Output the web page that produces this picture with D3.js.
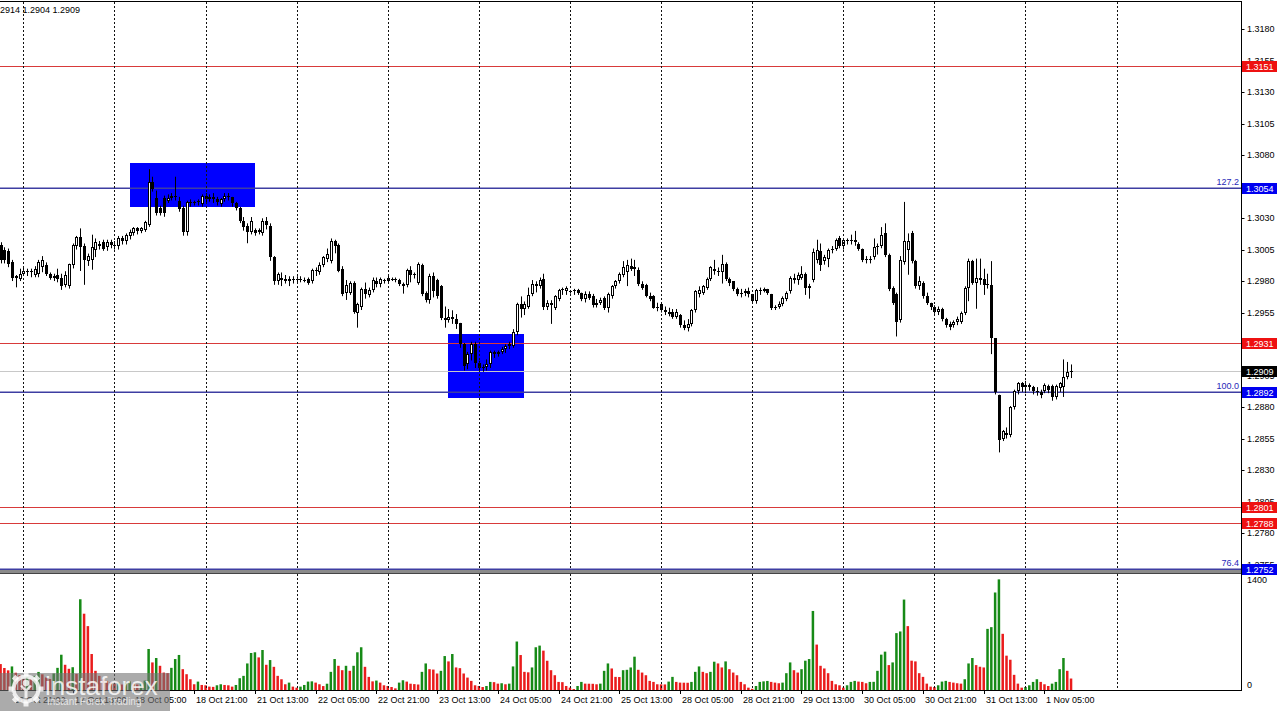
<!DOCTYPE html>
<html><head><meta charset="utf-8">
<script src="https://cdn.jsdelivr.net/npm/d3@7"></script>
<style>html,body{margin:0;padding:0;background:#fff;overflow:hidden}svg{display:block}</style>
</head><body>
<svg id="c" width="1280" height="711"></svg>
<script>
// ---------------- DATA (H1 candles, 16 Oct 18:00 .. 1 Nov 12:00) ----------------
const open = [
1.3009,1.3005,1.3004,1.2995,1.2984,1.2982,1.2986,1.2988,1.2987,1.2985,
1.2986,1.2991,1.2993,1.2986,1.2984,1.2985,1.2983,1.2977,1.2976,1.2993,
1.3008,1.3015,1.3008,1.2996,1.2997,1.3005,1.3010,1.3011,1.3007,1.3011,
1.3009,1.3008,1.3014,1.3012,1.3016,1.3018,1.3022,1.3020,1.3021,1.3025,
1.3059,1.3046,1.3038,1.3046,1.3044,1.3046,1.3048,1.3044,1.3038,1.3019,
1.3043,1.3042,1.3043,1.3041,1.3048,1.3045,1.3047,1.3045,1.3041,1.3045,
1.3048,1.3047,1.3042,1.3038,1.3028,1.3024,1.3019,1.3021,1.3019,1.3018,
1.3028,1.3024,1.2999,1.2980,1.2983,1.2982,1.2980,1.2982,1.2981,1.2982,
1.2981,1.2982,1.2980,1.2988,1.2987,1.2993,1.2998,1.2996,1.3012,1.3009,
1.2990,1.2971,1.2971,1.2979,1.2955,1.2960,1.2974,1.2969,1.2973,1.2980,
1.2978,1.2981,1.2980,1.2982,1.2982,1.2981,1.2978,1.2977,1.2989,1.2985,
1.2979,1.2993,1.2971,1.2965,1.2984,1.2981,1.2976,1.2951,1.2949,1.2952,
1.2950,1.2947,1.2930,1.2914,1.2922,1.2930,1.2915,1.2911,1.2912,1.2914,
1.2924,1.2922,1.2924,1.2926,1.2929,1.2929,1.2940,1.2962,1.2958,1.2960,
1.2970,1.2978,1.2976,1.2982,1.2960,1.2961,1.2959,1.2966,1.2973,1.2972,
1.2972,1.2972,1.2973,1.2971,1.2966,1.2970,1.2968,1.2961,1.2963,1.2967,
1.2959,1.2968,1.2976,1.2980,1.2985,1.2987,1.2992,1.2990,1.2989,1.2978,
1.2977,1.2968,1.2968,1.2959,1.2962,1.2957,1.2956,1.2956,1.2952,1.2953,
1.2945,1.2943,1.2946,1.2957,1.2970,1.2971,1.2975,1.2982,1.2990,1.2988,
1.2987,1.2994,1.2982,1.2980,1.2974,1.2970,1.2971,1.2972,1.2970,1.2964,
1.2973,1.2972,1.2974,1.2970,1.2959,1.2960,1.2962,1.2966,1.2972,1.2983,
1.2981,1.2983,1.2986,1.2975,1.2981,1.2997,1.3004,1.2996,1.2998,1.3005,
1.3006,1.3014,1.3008,1.3013,1.3012,1.3013,1.3010,1.3006,1.2997,1.2998,
1.2999,1.3007,1.3008,1.3018,1.3001,1.2975,1.2970,1.2949,1.2995,1.3005,
1.3018,1.2996,1.2976,1.2979,1.2968,1.2963,1.2960,1.2956,1.2958,1.2950,
1.2946,1.2945,1.2948,1.2948,1.2955,1.2975,1.2996,1.2979,1.2983,1.2982,
1.2978,1.2977,1.2935,1.2890,1.2855,1.2860,1.2858,1.2880,1.2893,1.2899,
1.2896,1.2898,1.2896,1.2893,1.2892,1.2893,1.2897,1.2897,1.2888,1.2895,
1.2896,1.2904,1.2908];
const high = [
1.3011,1.3007,1.3006,1.2997,1.2985,1.2990,1.2991,1.2990,1.2990,1.2992,
1.2997,1.3000,1.2995,1.2987,1.2986,1.2990,1.2986,1.2988,1.2994,1.3010,
1.3016,1.3022,1.3010,1.3002,1.3017,1.3014,1.3012,1.3013,1.3013,1.3013,
1.3012,1.3016,1.3016,1.3018,1.3021,1.3023,1.3023,1.3023,1.3028,1.3069,
1.3063,1.3052,1.3040,1.3048,1.3049,1.3050,1.3063,1.3047,1.3040,1.3044,
1.3045,1.3044,1.3045,1.3049,1.3050,1.3049,1.3050,1.3047,1.3046,1.3050,
1.3050,1.3047,1.3043,1.3039,1.3031,1.3026,1.3031,1.3022,1.3022,1.3030,
1.3031,1.3026,1.3000,1.2987,1.2987,1.2985,1.2984,1.2984,1.2984,1.2984,
1.2983,1.2983,1.2990,1.2991,1.2995,1.3000,1.3006,1.3014,1.3013,1.3010,
1.2992,1.2981,1.2980,1.2980,1.2963,1.2975,1.2979,1.2975,1.2983,1.2983,
1.2983,1.2982,1.2985,1.2983,1.2983,1.2982,1.2979,1.2990,1.2992,1.2987,
1.2995,1.2994,1.2972,1.2986,1.2987,1.2982,1.2977,1.2960,1.2958,1.2957,
1.2954,1.2947,1.2931,1.2924,1.2932,1.2932,1.2917,1.2914,1.2918,1.2925,
1.2925,1.2925,1.2928,1.2930,1.2932,1.2942,1.2963,1.2968,1.2964,1.2975,
1.2981,1.2980,1.2983,1.2986,1.2965,1.2965,1.2969,1.2974,1.2975,1.2976,
1.2973,1.2974,1.2974,1.2971,1.2972,1.2972,1.2970,1.2966,1.2967,1.2968,
1.2971,1.2977,1.2981,1.2987,1.2996,1.2997,1.2998,1.2997,1.2991,1.2980,
1.2978,1.2971,1.2969,1.2963,1.2963,1.2960,1.2959,1.2958,1.2958,1.2954,
1.2949,1.2950,1.2958,1.2973,1.2976,1.2977,1.2983,1.2992,1.2997,1.2991,
1.3001,1.2995,1.2983,1.2980,1.2975,1.2974,1.2974,1.2975,1.2970,1.2974,
1.2975,1.2975,1.2974,1.2970,1.2961,1.2964,1.2968,1.2972,1.2984,1.2986,
1.2987,1.2992,1.2987,1.2978,1.3006,1.3013,1.3010,1.3001,1.3006,1.3008,
1.3014,1.3016,1.3014,1.3014,1.3017,1.3020,1.3011,1.3006,1.3000,1.3000,
1.3014,1.3010,1.3023,1.3026,1.3002,1.2976,1.2971,1.3000,1.3043,1.3018,
1.3020,1.2997,1.2984,1.2980,1.2971,1.2963,1.2961,1.2960,1.2959,1.2951,
1.2948,1.2949,1.2952,1.2956,1.2976,1.2998,1.2997,1.2998,1.2998,1.2990,
1.2986,1.2996,1.2935,1.2890,1.2862,1.2864,1.2881,1.2894,1.2900,1.2900,
1.2901,1.2899,1.2897,1.2896,1.2894,1.2899,1.2898,1.2898,1.2898,1.2900,
1.2918,1.2916,1.2914];
const low = [
1.2995,1.2995,1.2992,1.2981,1.2976,1.2981,1.2985,1.2985,1.2984,1.2984,
1.2984,1.2988,1.2985,1.2982,1.2981,1.2980,1.2974,1.2976,1.2975,1.2991,
1.3006,1.2989,1.2978,1.2993,1.2990,1.3000,1.3006,1.3005,1.3005,1.3007,
1.3006,1.3006,1.3010,1.3010,1.3014,1.3017,1.3018,1.3019,1.3020,1.3024,
1.3052,1.3033,1.3033,1.3032,1.3043,1.3045,1.3045,1.3036,1.3017,1.3017,
1.3040,1.3041,1.3041,1.3040,1.3043,1.3044,1.3043,1.3041,1.3040,1.3044,
1.3045,1.3040,1.3037,1.3027,1.3021,1.3011,1.3018,1.3017,1.3018,1.3017,
1.3022,1.2997,1.2978,1.2978,1.2977,1.2979,1.2977,1.2979,1.2980,1.2980,
1.2980,1.2978,1.2979,1.2985,1.2986,1.2992,1.2996,1.2995,1.3003,1.2988,
1.2969,1.2966,1.2970,1.2955,1.2944,1.2958,1.2967,1.2968,1.2972,1.2976,
1.2976,1.2979,1.2979,1.2981,1.2980,1.2977,1.2971,1.2976,1.2980,1.2983,
1.2978,1.2969,1.2964,1.2963,1.2968,1.2967,1.2950,1.2944,1.2948,1.2947,
1.2943,1.2928,1.2910,1.2911,1.2918,1.2912,1.2909,1.2909,1.2910,1.2912,
1.2920,1.2921,1.2923,1.2924,1.2927,1.2928,1.2938,1.2952,1.2954,1.2959,
1.2969,1.2972,1.2975,1.2958,1.2958,1.2947,1.2958,1.2965,1.2970,1.2970,
1.2971,1.2970,1.2970,1.2965,1.2964,1.2966,1.2960,1.2960,1.2962,1.2958,
1.2956,1.2967,1.2975,1.2979,1.2984,1.2977,1.2989,1.2985,1.2977,1.2974,
1.2968,1.2965,1.2959,1.2957,1.2956,1.2954,1.2953,1.2951,1.2951,1.2944,
1.2942,1.2941,1.2945,1.2956,1.2968,1.2970,1.2974,1.2981,1.2986,1.2985,
1.2979,1.2981,1.2977,1.2973,1.2969,1.2968,1.2969,1.2968,1.2963,1.2963,
1.2970,1.2972,1.2970,1.2958,1.2958,1.2959,1.2961,1.2965,1.2971,1.2979,
1.2978,1.2982,1.2970,1.2967,1.2980,1.2995,1.2989,1.2994,1.2992,1.3003,
1.3005,1.3007,1.3006,1.3010,1.3010,1.3009,1.3005,1.2996,1.2995,1.2995,
1.2998,1.3002,1.3007,1.3000,1.2973,1.2962,1.2937,1.2948,1.2994,1.2986,
1.2995,1.2975,1.2974,1.2967,1.2962,1.2958,1.2955,1.2954,1.2949,1.2944,
1.2942,1.2944,1.2946,1.2947,1.2954,1.2965,1.2978,1.2959,1.2978,1.2970,
1.2975,1.2923,1.2891,1.2845,1.2854,1.2856,1.2857,1.2879,1.2891,1.2893,
1.2892,1.2894,1.2891,1.2890,1.2888,1.2892,1.2892,1.2886,1.2887,1.2893,
1.2889,1.2903,1.2904];
const close = [
1.2997,1.2997,1.2994,1.2983,1.2983,1.2986,1.2988,1.2987,1.2988,1.2990,
1.2995,1.2997,1.2986,1.2983,1.2983,1.2982,1.2976,1.2985,1.2994,1.3009,
1.3015,1.3007,1.2997,1.3000,1.3007,1.3011,1.3008,1.3006,1.3011,1.3009,
1.3008,1.3014,1.3012,1.3017,1.3019,1.3022,1.3020,1.3022,1.3027,1.3059,
1.3053,1.3034,1.3034,1.3034,1.3046,1.3048,1.3047,1.3037,1.3019,1.3043,
1.3042,1.3043,1.3044,1.3048,1.3045,1.3047,1.3045,1.3043,1.3045,1.3048,
1.3047,1.3042,1.3038,1.3028,1.3023,1.3019,1.3028,1.3018,1.3021,1.3028,
1.3025,1.2999,1.2980,1.2986,1.2981,1.2980,1.2982,1.2981,1.2982,1.2981,
1.2981,1.2979,1.2989,1.2989,1.2993,1.2999,1.3002,1.3012,1.3008,1.2988,
1.2970,1.2977,1.2979,1.2956,1.2962,1.2974,1.2970,1.2973,1.2981,1.2978,
1.2982,1.2980,1.2983,1.2982,1.2981,1.2978,1.2976,1.2989,1.2985,1.2986,
1.2994,1.2970,1.2965,1.2984,1.2972,1.2968,1.2951,1.2949,1.2952,1.2950,
1.2946,1.2930,1.2913,1.2922,1.2930,1.2915,1.2911,1.2912,1.2914,1.2924,
1.2922,1.2924,1.2926,1.2929,1.2930,1.2940,1.2962,1.2958,1.2962,1.2969,
1.2978,1.2976,1.2981,1.2960,1.2963,1.2963,1.2968,1.2973,1.2974,1.2975,
1.2972,1.2973,1.2971,1.2966,1.2970,1.2967,1.2961,1.2963,1.2965,1.2959,
1.2970,1.2976,1.2980,1.2986,1.2991,1.2993,1.2990,1.2991,1.2978,1.2975,
1.2968,1.2966,1.2959,1.2960,1.2957,1.2956,1.2954,1.2952,1.2956,1.2945,
1.2943,1.2946,1.2957,1.2972,1.2973,1.2976,1.2982,1.2991,1.2988,1.2987,
1.2994,1.2982,1.2979,1.2974,1.2970,1.2971,1.2972,1.2970,1.2964,1.2973,
1.2972,1.2974,1.2971,1.2959,1.2960,1.2962,1.2967,1.2971,1.2983,1.2981,
1.2985,1.2986,1.2975,1.2976,1.3003,1.3005,1.2993,1.2999,1.3005,1.3006,
1.3013,1.3008,1.3013,1.3012,1.3013,1.3011,1.3006,1.2997,1.2998,1.2997,
1.3007,1.3008,1.3017,1.3001,1.2974,1.2963,1.2948,1.2997,1.3012,1.3012,
1.2996,1.2976,1.2980,1.2968,1.2963,1.2960,1.2956,1.2958,1.2950,1.2945,
1.2944,1.2948,1.2950,1.2955,1.2975,1.2996,1.2979,1.2983,1.2981,1.2977,
1.2977,1.2935,1.2892,1.2854,1.2861,1.2858,1.2880,1.2893,1.2899,1.2896,
1.2898,1.2896,1.2893,1.2892,1.2890,1.2898,1.2894,1.2888,1.2897,1.2899,
1.2904,1.2908,1.2909];
const volume = [
330,280,250,300,220,190,150,170,140,180,
230,200,160,140,210,282,449,321,270,290,
205,1155,971,813,458,244,180,137,116,100,
80,95,70,90,110,85,70,90,120,522,
351,407,308,222,215,282,394,446,265,201,
137,73,107,64,60,43,40,60,73,64,
60,43,64,150,180,338,471,480,415,509,
321,381,295,180,137,73,94,43,30,43,
64,107,110,94,73,50,80,231,394,308,
252,308,244,308,480,544,295,167,110,120,
94,60,51,38,21,94,124,107,80,75,
70,231,338,265,260,210,244,432,364,458,
287,278,210,158,116,60,51,38,51,103,
100,81,86,73,81,300,617,445,231,225,
287,544,565,501,372,252,188,103,100,51,
30,12,51,103,81,80,79,73,81,244,
338,274,167,165,252,257,287,424,257,222,
188,116,103,73,72,71,107,167,103,94,
93,92,103,231,300,231,214,231,360,338,
287,364,265,222,188,103,73,30,15,51,
103,110,115,103,94,86,94,214,351,252,
222,265,373,394,1006,578,308,274,214,116,
73,60,30,60,103,116,107,103,86,103,
104,244,450,488,317,351,724,745,1151,813,
373,364,214,167,81,43,38,60,107,116,
103,94,86,81,137,338,407,317,296,287,
778,800,1241,1408,715,437,385,193,81,30,
38,60,103,137,103,73,51,81,103,265,
407,244,146];

// time axis: bar index -> label
const timeTickBars   = [3,19,35,51,67,83,99,115,131,147,163,179,195,211,227,243,259,275];
const timeTickLabels = ["16 Oct 21:00","17 Oct 13:00","18 Oct 05:00","18 Oct 21:00","21 Oct 13:00",
  "22 Oct 05:00","22 Oct 21:00","23 Oct 13:00","24 Oct 05:00","24 Oct 21:00","25 Oct 13:00",
  "28 Oct 05:00","28 Oct 21:00","29 Oct 13:00","30 Oct 05:00","30 Oct 21:00","31 Oct 13:00","1 Nov 05:00"];
// day separators (midnight bars)
const dayGridBars = [6,30,54,78,102,126,150,174,198,222,246,270,294];

// price scale labels (those fully hidden behind level tags are not listed)
const priceTicks = [1.3180,1.3155,1.3130,1.3105,1.3080,1.3030,1.3005,1.2980,1.2955,
  1.2905,1.2880,1.2855,1.2830,1.2805,1.2780,1.2755];
const volumeTicks = [1400, 0];

const redLevels = [1.3151, 1.2931, 1.2801, 1.2788];
const fibLevels = [1.3054, 1.2892, 1.2752];
const fibNames  = ["127.2", "100.0", "76.4"];
const bidLevel  = 1.2909;

const boxStartBar = [34, 118];
const boxEndBar   = [67, 138];
const boxTop      = [1.3074, 1.2938];
const boxBottom   = [1.3039, 1.2887];

// ---------------- DRAWING ----------------
const FONT = "'Liberation Sans', Arial, sans-serif";
const svg = d3.select('#c');
const axisX = 1241.5;
const x  = d3.scaleLinear().domain([0, 294]).range([0.52, 0.52 + 3.796 * 294]);
const y  = d3.scaleLinear().domain([1.2780, 1.3180]).range([533.3, 29.3]);
const yv = d3.scaleLinear().domain([0, 1400]).range([690, 580]);
const px = v => Math.round(v);

svg.append('rect').attr('width', 1280).attr('height', 711).attr('fill', '#fff');

const defs = svg.append('defs');
defs.append('clipPath').attr('id', 'cpP').append('rect').attr('x', 0).attr('y', 2).attr('width', 1241).attr('height', 568);
defs.append('clipPath').attr('id', 'cpV').append('rect').attr('x', 0).attr('y', 574).attr('width', 1241).attr('height', 116);

const gP = svg.append('g').attr('clip-path', 'url(#cpP)');
const gV = svg.append('g').attr('clip-path', 'url(#cpV)');

// rectangles (background objects)
gP.selectAll('rect.box').data(boxStartBar).join('rect').attr('class', 'box')
  .attr('x', (d, i) => px(x(d)))
  .attr('y', (d, i) => px(y(boxTop[i])))
  .attr('width', (d, i) => px(x(boxEndBar[i])) - px(x(d)))
  .attr('height', (d, i) => px(y(boxBottom[i])) - px(y(boxTop[i])))
  .attr('fill', '#0000ff');

// day grid
svg.append('g').selectAll('line').data(dayGridBars).join('line')
  .attr('x1', d => px(x(d)) + 0.5).attr('x2', d => px(x(d)) + 0.5)
  .attr('y1', 2).attr('y2', 690)
  .attr('stroke', '#111').attr('stroke-width', 1).attr('stroke-dasharray', '2,2');

// horizontal levels
gP.append('line').attr('x1', 0).attr('x2', axisX).attr('y1', px(y(bidLevel)) + 0.5).attr('y2', px(y(bidLevel)) + 0.5)
  .attr('stroke', '#c8c8c8').attr('stroke-width', 1);
gP.selectAll('line.red').data(redLevels).join('line').attr('class', 'red')
  .attr('x1', 0).attr('x2', axisX)
  .attr('y1', d => px(y(d)) + 0.5).attr('y2', d => px(y(d)) + 0.5)
  .attr('stroke', '#d83a3a').attr('stroke-width', 1);
gP.selectAll('line.fib').data(fibLevels).join('line').attr('class', 'fib')
  .attr('x1', 0).attr('x2', axisX)
  .attr('y1', d => px(y(d)) + 0.25).attr('y2', d => px(y(d)) + 0.25)
  .attr('stroke', '#3e3ea2').attr('stroke-width', 1.5);
gP.selectAll('text.fib').data(fibLevels).join('text').attr('class', 'fib')
  .attr('x', 1239).attr('y', d => px(y(d)) - 3)
  .attr('text-anchor', 'end').attr('font-family', FONT).attr('font-size', 9)
  .attr('fill', '#2828b8').text((d, i) => fibNames[i]);

// candles
const idx = d3.range(open.length);
const cg = gP.append('g');
cg.selectAll('line.wick').data(idx).join('line').attr('class', 'wick')
  .attr('x1', i => px(x(i)) + 0.5).attr('x2', i => px(x(i)) + 0.5)
  .attr('y1', i => y(Math.max(high[i], open[i], close[i])))
  .attr('y2', i => y(Math.min(low[i], open[i], close[i])) + 1)
  .attr('stroke', '#000').attr('stroke-width', 1);
cg.selectAll('rect.body').data(idx).join('rect').attr('class', 'body')
  .each(function (i) {
    const top = px(y(Math.max(open[i], close[i])));
    const bot = px(y(Math.min(open[i], close[i])));
    const h = bot - top;
    const cx = px(x(i));
    const s = d3.select(this);
    if (close[i] > open[i] && h >= 2) {
      s.attr('x', cx - 0.5).attr('y', top + 0.5).attr('width', 2).attr('height', h - 1)
       .attr('fill', '#fff').attr('stroke', '#000').attr('stroke-width', 1);
    } else {
      s.attr('x', cx - 1).attr('y', top).attr('width', 3).attr('height', Math.max(1, h))
       .attr('fill', '#000');
    }
  });

// volumes (green when volume rises vs previous bar, red otherwise)
gV.selectAll('rect.vol').data(idx).join('rect').attr('class', 'vol')
  .attr('x', i => x(i) - 1.2).attr('width', 2.5)
  .attr('y', i => yv(volume[i])).attr('height', i => yv(0) - yv(volume[i]))
  .attr('fill', i => (i > 0 && volume[i] > volume[i - 1]) ? '#168a16' : '#ea1c1c');

// frames
svg.append('line').attr('x1', 0).attr('x2', axisX).attr('y1', 1.5).attr('y2', 1.5).attr('stroke', '#000');
svg.append('rect').attr('x', 0).attr('y', 570).attr('width', axisX).attr('height', 3).attr('fill', '#8a8a8a');
svg.append('line').attr('x1', 0).attr('x2', axisX).attr('y1', 573.5).attr('y2', 573.5).attr('stroke', '#444');
svg.append('line').attr('x1', 0).attr('x2', axisX).attr('y1', 690.5).attr('y2', 690.5).attr('stroke', '#000');
svg.append('line').attr('x1', axisX).attr('x2', axisX).attr('y1', 1).attr('y2', 691).attr('stroke', '#000');

// price axis
const pa = svg.append('g');
pa.selectAll('line').data(priceTicks).join('line')
  .attr('x1', axisX).attr('x2', axisX + 3).attr('y1', d => px(y(d)) + 0.5).attr('y2', d => px(y(d)) + 0.5)
  .attr('stroke', '#000');
pa.selectAll('text').data(priceTicks).join('text')
  .attr('x', 1247).attr('y', d => y(d)).attr('dy', '0.35em')
  .attr('font-family', FONT).attr('font-size', 9).attr('fill', '#000')
  .text(d => d.toFixed(4));

// level labels on the price axis
const lvl = [];
redLevels.forEach(v => lvl.push({ v, c: '#ee1111' }));
fibLevels.forEach(v => lvl.push({ v, c: '#0000f0' }));
lvl.push({ v: bidLevel, c: '#000' });
const lg = svg.append('g').selectAll('g').data(lvl).join('g');
lg.append('rect').attr('x', 1242).attr('width', 35).attr('y', d => px(y(d.v)) - 5).attr('height', 11).attr('fill', d => d.c);
lg.append('text').attr('x', 1246).attr('y', d => px(y(d.v)) + 0.5).attr('dy', '0.35em')
  .attr('font-family', FONT).attr('font-size', 9).attr('fill', '#fff').text(d => d.v.toFixed(4));

// volume axis
svg.append('g').selectAll('text').data(volumeTicks).join('text')
  .attr('x', 1247).attr('y', d => d === 0 ? yv(d) - 5 : yv(d)).attr('dy', '0.35em')
  .attr('font-family', FONT).attr('font-size', 9).attr('fill', '#000').text(d => d);

// time axis
const ta = svg.append('g');
ta.selectAll('line').data(timeTickBars).join('line')
  .attr('x1', d => px(x(d)) + 0.5).attr('x2', d => px(x(d)) + 0.5).attr('y1', 690).attr('y2', 694)
  .attr('stroke', '#000');
ta.selectAll('text').data(timeTickBars).join('text')
  .attr('x', d => px(x(d)) + 2).attr('y', 703)
  .attr('font-family', FONT).attr('font-size', 9).attr('fill', '#000')
  .text((d, i) => timeTickLabels[i]);

// header: last bar H L C (left part scrolled off the window as in the reference)
const last = close.length - 1;
svg.append('text').attr('x', 80).attr('y', 13).attr('text-anchor', 'end')
  .attr('font-family', FONT).attr('font-size', 9).attr('fill', '#000')
  .text(`${high[last].toFixed(4)} ${low[last].toFixed(4)} ${close[last].toFixed(4)}`);

// watermark
const wm = svg.append('g');
wm.append('rect').attr('x', 0).attr('y', 673).attr('width', 170).attr('height', 38).attr('fill', 'rgba(115,115,115,0.6)');
const gear = wm.append('g').attr('transform', 'translate(26,689)').attr('fill', 'rgba(255,255,255,0.8)').attr('stroke', 'none');
gear.append('circle').attr('r', 12.5).attr('fill', 'none').attr('stroke', 'rgba(255,255,255,0.8)').attr('stroke-width', 4);
d3.range(8).forEach(k => gear.append('rect').attr('x', -2.5).attr('y', -17.5).attr('width', 5).attr('height', 5)
  .attr('transform', `rotate(${k * 45})`));
gear.append('circle').attr('cx', 0).attr('cy', -6).attr('r', 3.2);
gear.append('path').attr('d', 'M-6,-3 L-1.5,2 L-1.5,9 L1.5,9 L1.5,2 L6,-3 L4,-4 L0,0 L-4,-4 Z');
wm.append('text').attr('x', 45).attr('y', 695).attr('font-family', FONT).attr('font-size', 26)
  .attr('fill', 'rgba(255,255,255,0.82)').text('instaforex');
wm.append('text').attr('x', 47).attr('y', 705).attr('font-family', FONT).attr('font-size', 10)
  .attr('fill', 'rgba(255,255,255,0.7)').text('Instant Forex Trading');
</script>
</body></html>
